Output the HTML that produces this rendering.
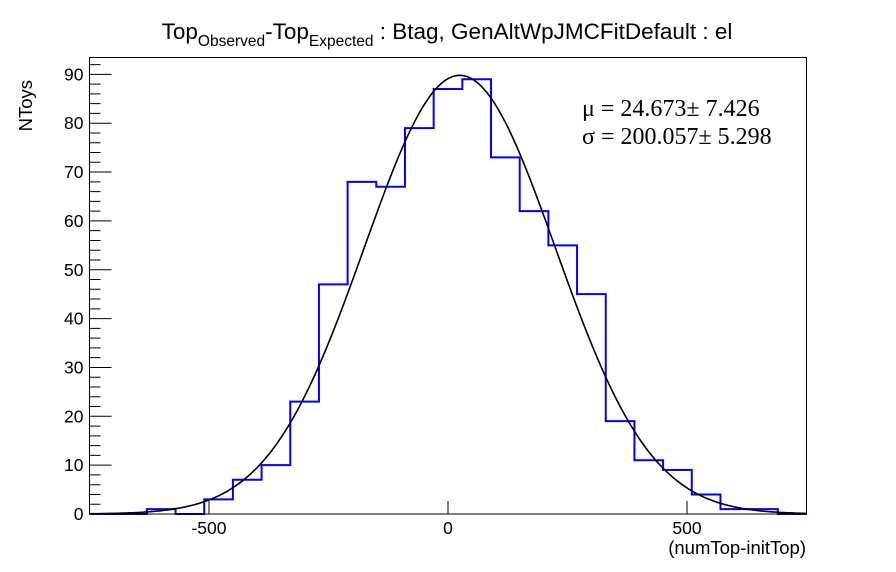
<!DOCTYPE html>
<html><head><meta charset="utf-8"><style>
body{margin:0;background:#fff;}
svg{display:block;font-family:"Liberation Sans",sans-serif;}
</style></head><body>
<svg width="896" height="572" viewBox="0 0 896 572">
<rect width="896" height="572" fill="#fff"/>
<text x="447" y="39" font-size="22.5" text-anchor="middle">Top<tspan font-size="15.5" dy="7">Observed</tspan><tspan dy="-7">-Top</tspan><tspan font-size="15.5" dy="7">Expected</tspan><tspan dy="-7"> : Btag, GenAltWpJMCFitDefault : el</tspan></text>
<g id="ticks"></g>
<path id="hist" fill="none" stroke="#0000ff" stroke-width="2"/>
<path id="fit" fill="none" stroke="#000" stroke-width="1.6"/>
<rect x="89.5" y="57.5" width="717" height="456.5" fill="none" stroke="#000" stroke-width="1"/>
<g id="labels" font-size="17.5"></g>
<text x="32" y="80" font-size="18.5" text-anchor="end" transform="rotate(-90 32 80)">NToys</text>
<text x="806" y="554" font-size="18.5" text-anchor="end">(numTop-initTop)</text>
<text x="582" y="116" font-size="24" font-family="Liberation Serif,serif">μ = 24.673± 7.426</text>
<text x="582" y="144" font-size="24" font-family="Liberation Serif,serif">σ = 200.057± 5.298</text>
</svg>
<script>
const binEdgesStart = -750;
const binWidth = 60;
const counts = [0,0,1,0,3,7,10,23,47,68,67,79,87,89,73,62,55,45,19,11,9,4,1,1,0];
const fitMean = 24.673;
const fitSigma = 200.057;
const fitAmp = 89.8;
const xTicks = [-500,0,500];
const yTicks = [0,10,20,30,40,50,60,70,80,90];

const X0=89.5,X1=806.5,Y0=514,Y1=57.5,xmin=-750,xmax=750,ymin=0,ymax=93.45;
const sx=v=>X0+(v-xmin)/(xmax-xmin)*(X1-X0);
const sy=v=>Y0-(v-ymin)/(ymax-ymin)*(Y0-Y1);
const NS="http://www.w3.org/2000/svg";

let d="M"+sx(binEdgesStart)+","+sy(0);
counts.forEach((c,i)=>{
  const a=binEdgesStart+i*binWidth,b=a+binWidth;
  d+=" L"+sx(a)+","+sy(c)+" L"+sx(b)+","+sy(c);
});
d+=" L"+sx(binEdgesStart+counts.length*binWidth)+","+sy(0);
document.getElementById('hist').setAttribute('d',d);

let f="";
for(let i=0;i<=300;i++){
  const x=xmin+(xmax-xmin)*i/300;
  const y=fitAmp*Math.exp(-0.5*Math.pow((x-fitMean)/fitSigma,2));
  f+=(i?" L":"M")+sx(x).toFixed(2)+","+sy(y).toFixed(2);
}
document.getElementById('fit').setAttribute('d',f);

const tg=document.getElementById('ticks'),lg=document.getElementById('labels');
let td="";
for(let v=0;v<=ymax;v+=2){
  const major=v%10===0;
  td+=`M${X0},${sy(v)} L${X0+(major?22:11)},${sy(v)} `;
}
xTicks.forEach(v=>{td+=`M${sx(v)},${Y0} L${sx(v)},${Y0-13} `;});
const tp=document.createElementNS(NS,'path');
tp.setAttribute('d',td);tp.setAttribute('stroke','#000');tp.setAttribute('fill','none');


tg.appendChild(tp);
yTicks.forEach(v=>{
  const t=document.createElementNS(NS,'text');
  t.setAttribute('x',X0-6);t.setAttribute('y',sy(v)+6);t.setAttribute('text-anchor','end');
  t.textContent=v;
  
  
  lg.appendChild(t);
});
xTicks.forEach(v=>{
  const t=document.createElementNS(NS,'text');
  t.setAttribute('x',sx(v));t.setAttribute('y',Y0+20);t.setAttribute('text-anchor','middle');
  t.textContent=v;
  
  
  lg.appendChild(t);
});
</script>
</body></html>
